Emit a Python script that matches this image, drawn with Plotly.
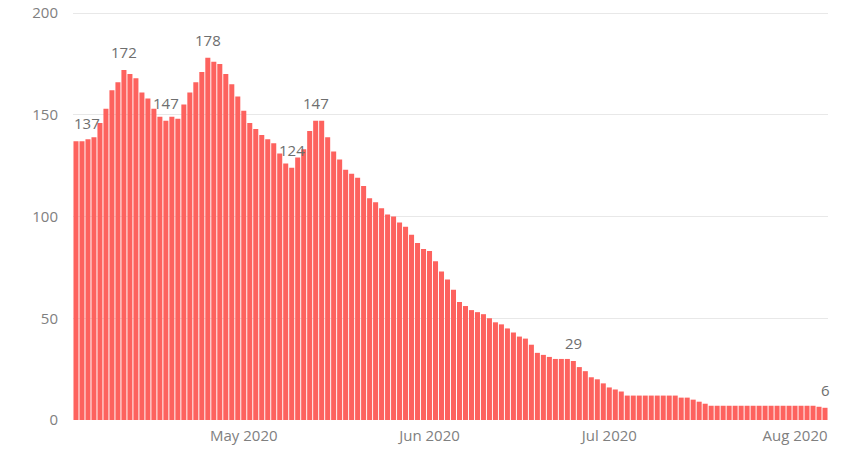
import pandas as pd
import plotly.graph_objects as go

# Daily values (rolling average of new cases), 3 Apr 2020 – 6 Aug 2020
start_date = "2020-04-03"
values = [
    137, 137, 138, 139, 146, 153, 162, 166, 172, 170,
    168, 161, 158, 153, 149, 147, 149, 148, 155, 161,
    166, 171, 178, 176, 175, 170, 165, 159, 152, 146,
    143, 140, 138, 136, 131, 126, 124, 129, 133, 142,
    147, 147, 139, 132, 128, 123, 121, 119, 115, 109,
    107, 104, 101, 100, 97, 95, 91, 87, 84, 83,
    78, 73, 69, 64, 58, 56, 54, 53, 52, 50,
    48, 47, 45, 43, 41, 40, 37, 33, 32, 31,
    30, 30, 30, 29, 26, 24, 21, 20, 18, 16,
    15, 14, 12, 12, 12, 12, 12, 12, 12, 12,
    12, 11, 11, 10, 9, 8, 7, 7, 7, 7,
    7, 7, 7, 7, 7, 7, 7, 7, 7, 7,
    7, 7, 7, 7, 6.5, 6,
]
dates = pd.date_range(start_date, periods=len(values), freq="D")

# Bars that carry a value label
label_idx = [0, 8, 15, 22, 36, 40, 83, 125]

# Month ticks
tick_dates = ["2020-05-01", "2020-06-01", "2020-07-01", "2020-08-01"]
tick_text = ["May 2020", "Jun 2020", "Jul 2020", "Aug 2020"]
y_ticks = [0, 50, 100, 150, 200]

BAR_COLOR = "#FD625E"
FONT = "Segoe UI, Open Sans, sans-serif"

fig = go.Figure(
    go.Bar(
        x=dates,
        y=values,
        marker=dict(color=BAR_COLOR, line=dict(width=0)),
        hoverinfo="x+y",
    )
)

for i in label_idx:
    v = values[i]
    fig.add_annotation(
        x=dates[i],
        y=v,
        text=f"{v:.0f}",
        showarrow=False,
        yanchor="bottom",
        yshift=6,
        xshift=11 if i == 0 else 0,
        font=dict(family=FONT, size=15, color="#6E6E6E"),
    )

half_day = pd.Timedelta(hours=12)
fig.update_layout(
    width=846,
    height=452,
    margin=dict(l=73, r=18, t=12, b=31.5),
    paper_bgcolor="white",
    plot_bgcolor="white",
    bargap=0.16,
    showlegend=False,
    font=dict(family=FONT, size=15, color="#808080"),
    xaxis=dict(
        type="date",
        range=[dates[0] - half_day, dates[-1] + half_day],
        tickvals=tick_dates,
        ticktext=tick_text,
        showgrid=False,
        showline=False,
        zeroline=False,
        ticks="",
        automargin=False,
        ticklabelstandoff=5,
        tickfont=dict(family=FONT, size=15, color="#808080"),
    ),
    yaxis=dict(
        # a hair of headroom so the 200 gridline is drawn inside the plot
        range=[0, 200.5],
        tickvals=y_ticks,
        showgrid=True,
        gridcolor="#E8E8E8",
        gridwidth=1,
        zeroline=False,
        showline=False,
        ticks="",
        automargin=False,
        ticklabelstandoff=14,
        tickfont=dict(family=FONT, size=15, color="#808080"),
    ),
)

fig.write_html("out.html")
